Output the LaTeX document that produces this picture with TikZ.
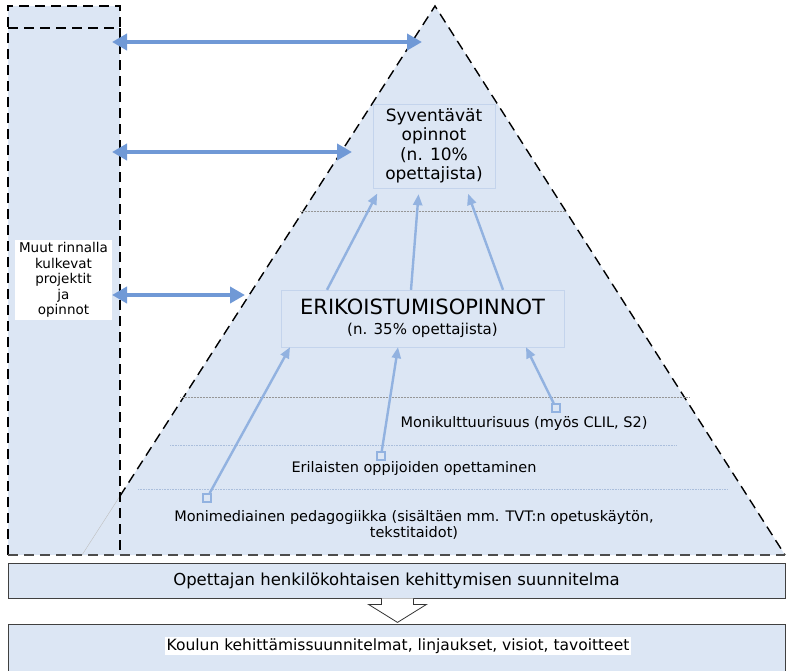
\documentclass[tikz,border=0pt]{standalone}
\usepackage{fontspec}
\setmainfont{DejaVu Sans}
\usetikzlibrary{arrows.meta,positioning}
\definecolor{paleblue}{RGB}{220,230,244}
\definecolor{arrowblue}{RGB}{112,153,214}
\definecolor{lightarrow}{RGB}{146,178,224}
\definecolor{boxline}{RGB}{196,212,236}
\definecolor{sepgray}{RGB}{150,150,150}
\definecolor{sepblue}{RGB}{170,190,220}

\begin{document}
\begin{tikzpicture}[x=1pt,y=-1pt,
    bigdash/.style={dash pattern=on 10pt off 6pt, line width=1.4pt},
    twoway/.style={{Triangle[length=15pt,width=16pt]}-{Triangle[length=15pt,width=16pt]}, line width=4pt, arrowblue},
    upway/.style={-{Triangle[length=11pt,width=9pt]}, line width=2.4pt, lightarrow},
    levelbox/.style={draw=boxline, fill=paleblue, align=center, inner sep=2pt},
    startsq/.style={draw=lightarrow, line width=1.6pt, fill=paleblue, minimum size=8pt, inner sep=0pt},
    plan/.style={draw=black!75, line width=0.8pt, fill=paleblue, minimum width=777pt}]
	\useasboundingbox (0,0) rectangle (787,670);
	
	% side column
	\fill[paleblue] (8,6) rectangle (120,555);
	\draw[bigdash] (8,555) -- (8,6) -- (120,6) -- (120,28);
	\draw[bigdash] (8,28) -- (120,28);
	
	% pyramid
	\fill[paleblue] (435,6) -- (785,555) -- (82,555) -- cycle;
	\draw[bigdash] (120,496) -- (435,6) -- (785,555);
	\draw[black!25] (120,496) -- (82,555);
	\draw[bigdash, black!70] (8,555) -- (785,555);
	\draw[bigdash] (120,28) -- (120,555);
	
	% level lines
	\draw[densely dotted, sepgray, line width=0.5pt] (300,211) -- (565,211);
	\draw[densely dotted, sepgray, line width=0.5pt] (180,397) -- (690,397);
	\draw[densely dotted, sepblue, line width=0.6pt] (170,445) -- (676,445);
	\draw[densely dotted, sepblue, line width=0.6pt] (138,489) -- (727,489);
	
	% side label
	\node[fill=white, align=center, font=\fontsize{13.5}{15.5}\selectfont, minimum width=97pt, minimum height=80pt, inner sep=1pt] (side) at (63.5,280) {Muut rinnalla\\kulkevat\\projektit\\ja\\opinnot};
	
	% boxes
	\node[levelbox, minimum width=122pt, minimum height=84pt, font=\fontsize{17}{19.5}\selectfont] (syv) at (434,146) {Syventävät\\opinnot\\(n. 10\%\\opettajista)};
	\node[levelbox, minimum width=283pt, minimum height=57pt, font=\fontsize{15}{20}\selectfont] (erik) at (422.5,318.5) {{\fontsize{21}{20}\selectfont ERIKOISTUMISOPINNOT}\\(n. 35\% opettajista)};
	
	% item labels
	\node[font=\fontsize{14.5}{16}\selectfont] (moni) at (524,423) {Monikulttuurisuus (myös CLIL, S2)};
	\node[font=\fontsize{14.5}{16}\selectfont] (eril) at (414,468) {Erilaisten oppijoiden opettaminen};
	\node[font=\fontsize{14.5}{16}\selectfont, align=center] (media) at (414,525) {Monimediainen pedagogiikka (sisältäen mm. TVT:n opetuskäytön,\\tekstitaidot)};
	
	% start squares
	\node[startsq] (sq1) at (207,498) {};
	\node[startsq] (sq2) at (381,456) {};
	\node[startsq] (sq3) at (556,408) {};
	
	% arrow ends
	\coordinate (p1) at (422,42);
	\coordinate (p2) at (352,152);
	\coordinate (p3) at (245,295);
	\coordinate (c1) at (112,42);
	\coordinate (c2) at (112,152);
	\coordinate (c3) at (112,295);
	
	% two-way arrows
	\draw[twoway] (c1) -- (p1);
	\draw[twoway] (c2) -- (p2);
	\draw[twoway] (c3) -- (p3);
	
	% items up to erik
	\draw[upway] (sq1) -- (erik.south -| 290,0);
	\draw[upway] (sq2) -- (erik.south -| 398,0);
	\draw[upway] (sq3) -- (erik.south -| 526,0);
	
	% erik up to syv
	\draw[upway, shorten >=6pt] (erik.north -| 327,0) -- (syv.south -| 380,0);
	\draw[upway, shorten >=6pt] (erik.north -| 411,0) -- (syv.south -| 419,0);
	\draw[upway, shorten >=6pt] (erik.north -| 503,0) -- (syv.south -| 466,0);
	
	% plans
	\node[plan, minimum height=35pt, font=\fontsize{16.5}{18}\selectfont] (hks) at (396.5,580.5) {Opettajan henkilökohtaisen kehittymisen suunnitelma};
	\node[plan, minimum height=50pt, anchor=north] (kks) at (396.5,624) {};
	\node[fill=white, inner sep=1.5pt, font=\fontsize{15.5}{17}\selectfont] (kkstext) at (398,646) {Koulun kehittämissuunnitelmat, linjaukset, visiot, tavoitteet};
	
	% block arrow
	\draw[black!80, fill=white, line width=0.8pt, shift={(hks.south)}] (-15,0) -- (-15,6) -- (-28,6) -- (1,24) -- (30,6) -- (17,6) -- (17,0);
\end{tikzpicture}
\end{document}
